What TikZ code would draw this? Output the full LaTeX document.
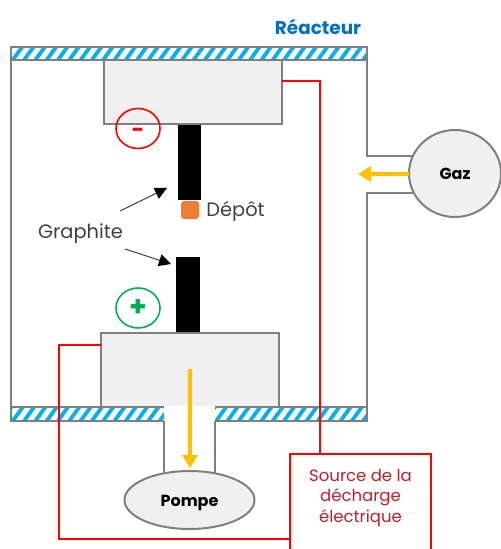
\documentclass[tikz,border=0pt]{standalone}
\usepackage{xcolor}
\usepackage{fontspec}
\setmainfont{Poppins}
\usepackage{tikz}
\usetikzlibrary{arrows.meta,shapes.geometric,calc}
\definecolor{wallGray}{RGB}{127,127,127}
\definecolor{blockGray}{RGB}{240,240,240}
\definecolor{hatchBlue}{RGB}{0,176,240}
\definecolor{gasYellow}{RGB}{255,192,0}
\definecolor{depotOrange}{RGB}{237,125,49}
\definecolor{plusGreen}{RGB}{0,176,80}
\definecolor{titleBlue}{RGB}{0,112,192}
\definecolor{sourceRed}{RGB}{192,32,40}
\tikzset{
  wall/.style={wallGray,line width=1pt},
  band/.style={inner sep=0pt,outer sep=0pt},
  stripe/.style={hatchBlue,line width=1.9pt},
  block/.style={draw=wallGray,line width=1pt,fill=blockGray,inner sep=0pt,outer sep=0pt},
  rod/.style={fill=black,inner sep=0pt,outer sep=0pt},
  pole/.style={draw,ellipse,line width=0.8pt,minimum width=22pt,minimum height=20pt,inner sep=0pt,font=\bfseries\fontsize{14}{14}\selectfont},
  device/.style={draw=wallGray,line width=1pt,fill=blockGray,ellipse,inner sep=0pt,outer sep=0pt,
                 text height=8pt,text depth=1.7pt,font=\bfseries\fontsize{8}{10}\selectfont},
  flow/.style={-{Triangle[length=6.5pt,width=7.5pt]},gasYellow,line width=2pt},
  pointer/.style={-{Triangle[length=6pt,width=6pt,color=black]},black!75,line width=0.5pt},
  wire/.style={red,line width=0.8pt},
  lbl/.style={inner sep=0pt,text=black!75,font=\fontsize{9.7}{12}\selectfont},
}

\begin{document}
\begin{tikzpicture}[x=0.5pt,y=-0.5pt]
  \useasboundingbox (0,0) rectangle (501,549);
  \clip (0,0) rectangle (501,549);
  % blocks and rods
  \node[rod,minimum width=11.5pt,minimum height=38pt] (rodtop) at (189.5,162) {};
  \node[rod,minimum width=12pt,minimum height=38pt] (rodbottom) at (188,295) {};
  \node[block,minimum width=89pt,minimum height=32pt] (blocktop) at (193,92) {};
  \node[block,minimum width=89pt,minimum height=37pt] (blockbottom) at (190,370) {};
  \node[fill=depotOrange,rounded corners=1.5pt,inner sep=0pt,minimum width=9pt,minimum height=9pt] (depot) at (190,210) {};
  % reactor walls
  \node[band,minimum width=178pt,minimum height=6.5pt] (walltop) at (189,53.5) {};
  \node[band,minimum width=76.5pt,minimum height=7pt] (wallleft) at (87.5,414) {};
  \node[band,minimum width=76pt,minimum height=7pt] (wallright) at (291,414) {};
  \foreach \wallname/\ybase in {walltop/62,wallleft/423,wallright/423}{
    \begin{scope}
      \clip (\wallname.south west) rectangle (\wallname.north east);
      \foreach \x in {0,11.3,...,380}
        \draw[stripe] (\x,\ybase) -- ++(13,-18);
    \end{scope}
  }
  \node[band,fill=white,minimum width=25.5pt,minimum height=8pt] (gap) at (189.5,414) {};
  \draw[wall] (walltop.south west) -- (walltop.north west) -- (walltop.north east) -- (walltop.south east) -- cycle;
  \draw[wall] (walltop.south east) -- (367,156) -- (413,156);
  \draw[wall] (413,193) -- (367,193) -- (wallright.south east) -- (wallright.south west);
  \draw[wall] (wallright.north west) -- (wallright.north east);
  \draw[wall] (walltop.south west) -- (wallleft.south west) -- (wallleft.south east);
  \draw[wall] (wallleft.north west) -- (wallleft.north east);
  \draw[wall] (wallleft.south east) -- (164,475);
  \draw[wall] (wallright.south west) -- (215,475);
  % gas and pump
  \node[device,minimum width=46pt,minimum height=43.5pt] (gaz) at (455,173.5) {Gaz};
  \node[device,minimum width=65pt,minimum height=29pt] (pompe) at (189.5,500) {Pompe};
  \coordinate (gazend) at (358,174);
  \coordinate (pompestart) at (190,369);
  \coordinate (pompeend) at (190,468);
  \draw[flow] (gaz.west |- gazend) -- (gazend);
  \draw[flow] (pompestart) -- (pompeend);
  % poles
  \node[pole,draw=red,text=red,font=\bfseries\fontsize{11}{11}\selectfont] (minus) at (138,128.5) {\smash{\raisebox{-4.5pt}{-}}};
  \node[pole,draw=plusGreen,text=plusGreen] (plus) at (138,308) {\raisebox{-0.5pt}{+}};
  % labels
  \node[inner sep=0pt,text=titleBlue,font=\bfseries\fontsize{9.2}{12}\selectfont] (reacteur) at (318,27) {Réacteur};
  \node[lbl] (graphite) at (80.5,233.5) {Graphite};
  \node[lbl,anchor=west] (depottext) at (206,211) {Dépôt};
  \coordinate (ptrtopstart) at (120,211);
  \coordinate (ptrtop) at (167,188);
  \coordinate (ptrbottomstart) at (125,249);
  \coordinate (ptrbottom) at (171,264);
  \draw[pointer] (ptrtopstart) -- (ptrtop);
  \draw[pointer] (ptrbottomstart) -- (ptrbottom);
  % discharge source
  \node[draw=red,line width=0.8pt,fill=white,inner sep=0pt,minimum width=70.5pt,minimum height=53pt] (source) at (360.5,507) {};
  \node[inner sep=0pt,align=center,text=sourceRed,font=\fontsize{8.25}{10.4}\selectfont] (sourcetext) at (360.5,498) {Source de la\\décharge\\électrique};
  \coordinate (wiretop) at (320,81);
  \coordinate (wirebottom) at (59,345);
  \coordinate (wirelow) at (59,539);
  \draw[wire] (blocktop.east |- wiretop) -- (wiretop) -- (wiretop |- source.north);
  \draw[wire] (blockbottom.west |- wirebottom) -- (wirebottom) -- (wirelow) -- (source.west |- wirelow);
\end{tikzpicture}
\end{document}
